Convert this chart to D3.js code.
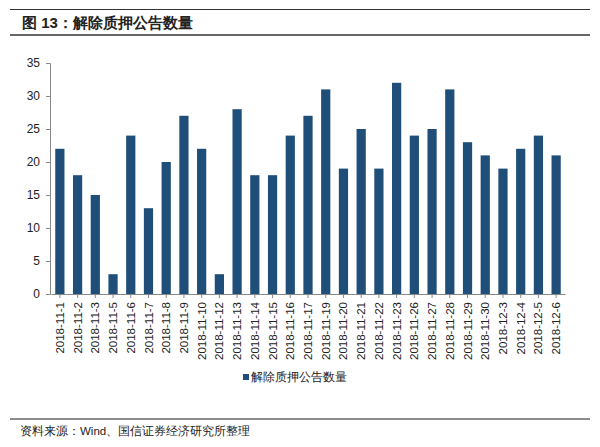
<!DOCTYPE html><html><head><meta charset="utf-8"><script src="https://cdn.jsdelivr.net/npm/d3@7"></script>
<style>body{margin:0;background:#fff}text{font-family:Arial,"Liberation Sans",sans-serif}</style></head><body><svg id="c" width="600" height="447"></svg><script>
const categories=["2018-11-1","2018-11-2","2018-11-3","2018-11-5","2018-11-6","2018-11-7","2018-11-8","2018-11-9","2018-11-10","2018-11-12","2018-11-13","2018-11-14","2018-11-15","2018-11-16","2018-11-17","2018-11-19","2018-11-20","2018-11-21","2018-11-22","2018-11-23","2018-11-26","2018-11-27","2018-11-28","2018-11-29","2018-11-30","2018-12-3","2018-12-4","2018-12-5","2018-12-6"];
const values=[22,18,15,3,24,13,20,27,22,3,28,18,18,24,27,31,19,25,19,32,24,25,31,23,21,19,22,24,21];
const yTicks=[0,5,10,15,20,25,30,35];
const seriesName="解除质押公告数量";
const svg=d3.select("#c");
const cjk='"Noto Sans CJK SC",sans-serif';
svg.append("line").attr("x1",10).attr("x2",590).attr("y1",9.5).attr("y2",9.5).attr("stroke","#333").attr("stroke-width",1);
svg.append("text").attr("x",22).attr("y",28).text("图 13：解除质押公告数量").attr("font-size",15).attr("font-weight","bold").attr("font-family",cjk).attr("fill","#222");
svg.append("line").attr("x1",10).attr("x2",590).attr("y1",35).attr("y2",35).attr("stroke","#666").attr("stroke-width",2);
const x=d3.scaleBand().domain(categories).range([51,565]).paddingInner(0.48).paddingOuter(0.24);
const y=d3.scaleLinear().domain([0,35]).range([294,63]);
svg.selectAll("rect.b").data(values).join("rect").attr("class","b").attr("x",(d,i)=>x(categories[i])).attr("width",x.bandwidth()).attr("y",d=>y(d)).attr("height",d=>y(0)-y(d)).attr("fill","#1f4e79");
const ya=svg.append("g").attr("transform","translate(50,0)").call(d3.axisLeft(y).tickValues(yTicks).tickSize(4).tickPadding(6));
ya.selectAll("text").attr("font-size",12).attr("fill","#222");
ya.selectAll("line,path").attr("stroke","#888");
const xa=svg.append("g").attr("transform","translate(0,294)").call(d3.axisBottom(x).tickSize(4).tickSizeOuter(0));
xa.selectAll("path,line").attr("stroke","#888");
xa.selectAll("text").attr("font-size",11.5).attr("fill","#222").attr("text-anchor","end").attr("transform","rotate(-90)").attr("x",-8).attr("y",0).attr("dy","0.35em");
svg.append("rect").attr("x",243).attr("y",374).attr("width",6).attr("height",6).attr("fill","#1f4e79");
svg.append("text").attr("x",251).attr("y",381).text(seriesName).attr("font-size",11.5).attr("font-family",cjk).attr("fill","#222");
svg.append("line").attr("x1",10).attr("x2",590).attr("y1",419).attr("y2",419).attr("stroke","#666").attr("stroke-width",1.5);
svg.append("text").attr("x",20).attr("y",435).text("资料来源：Wind、国信证券经济研究所整理").attr("font-size",11.5).attr("font-family",cjk).attr("fill","#222");
</script></body></html>
